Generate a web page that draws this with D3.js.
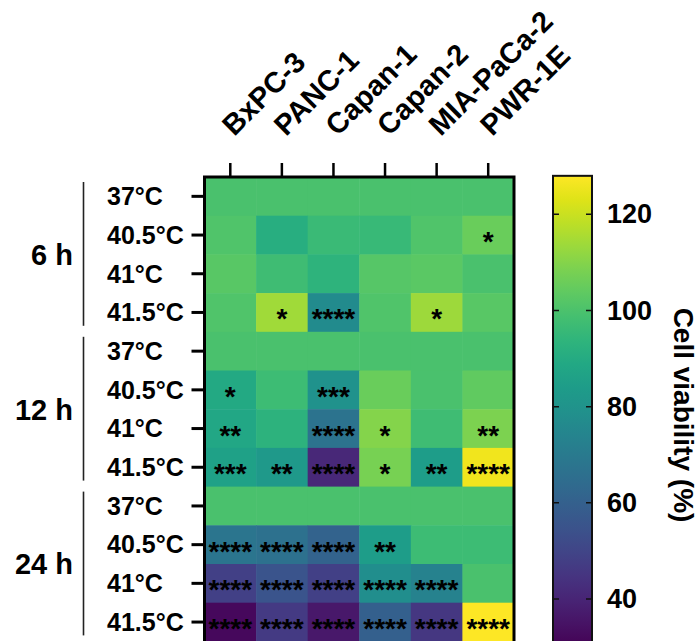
<!DOCTYPE html>
<html>
<head>
<meta charset="utf-8">
<script src="https://cdn.jsdelivr.net/npm/d3@7"></script>
<style>
  html, body { margin: 0; padding: 0; background: #fff; }
  svg { display: block; font-family: "Liberation Sans", Arial, sans-serif; font-weight: bold; }
</style>
</head>
<body>
<svg id="chart" width="700" height="641"></svg>
<script>
// ---------- data ----------
const cellLines = ["BxPC-3", "PANC-1", "Capan-1", "Capan-2", "MIA-PaCa-2", "PWR-1E"];
const temps = ["37°C", "40.5°C", "41°C", "41.5°C"];
const times = ["6 h", "12 h", "24 h"];

const viability6h = [
  [100, 100, 100, 100, 100, 100],
  [101, 91.5, 96.5, 96, 101, 105.5],
  [102.5, 97.5, 93.5, 102, 103, 100],
  [101, 114, 77, 101, 113.5, 102.5]
];
const viability12h = [
  [100, 100, 100, 100, 100, 100],
  [89, 97, 80, 105.5, 100, 104],
  [88.5, 93, 67.5, 110, 97.5, 108.5],
  [86, 82.5, 41, 108, 84, 126]
];
const viability24h = [
  [100, 100, 100, 100, 100, 100],
  [68, 66, 61, 84, 97, 97],
  [48.5, 55.5, 48.5, 78, 73.5, 100],
  [32, 46.5, 36.5, 59.5, 45.5, 128]
];
const stars6h = [
  ["", "", "", "", "", ""],
  ["", "", "", "", "", "*"],
  ["", "", "", "", "", ""],
  ["", "*", "****", "", "*", ""]
];
const stars12h = [
  ["", "", "", "", "", ""],
  ["*", "", "***", "", "", ""],
  ["**", "", "****", "*", "", "**"],
  ["***", "**", "****", "*", "**", "****"]
];
const stars24h = [
  ["", "", "", "", "", ""],
  ["****", "****", "****", "**", "", ""],
  ["****", "****", "****", "****", "****", ""],
  ["****", "****", "****", "****", "****", "****"]
];
const colorTicks = [40, 60, 80, 100, 120];
const colorMin = 30, colorMax = 128;

// ---------- build table ----------
const valueBlocks = [viability6h, viability12h, viability24h];
const starBlocks = [stars6h, stars12h, stars24h];
const rows = [];
times.forEach((t, ti) => temps.forEach((tp, pi) => rows.push({ key: t + "|" + tp, time: t, temp: tp, ti, pi })));
const cells = [];
rows.forEach(r => cellLines.forEach((c, ci) => cells.push({
  row: r.key, col: c,
  value: valueBlocks[r.ti][r.pi][ci],
  stars: starBlocks[r.ti][r.pi][ci]
})));

// ---------- layout ----------
const svg = d3.select("#chart");
const hm = { left: 204.5, top: 177, right: 514, bottom: 641.4 };
const FONT = "Liberation Sans, Arial, sans-serif";

const x = d3.scaleBand().domain(cellLines).range([hm.left, hm.right]);
const y = d3.scaleBand().domain(rows.map(r => r.key)).range([hm.top, hm.bottom]);
const color = d3.scaleSequential(d3.interpolateViridis).domain([colorMin, colorMax]);

// cells
svg.append("g").selectAll("rect").data(cells).join("rect")
  .attr("x", d => x(d.col))
  .attr("y", d => y(d.row))
  .attr("width", x.bandwidth() + 0.5)
  .attr("height", y.bandwidth() + 0.5)
  .attr("fill", d => color(d.value));

// significance stars
svg.append("g").selectAll("text").data(cells.filter(d => d.stars)).join("text")
  .attr("x", d => x(d.col) + x.bandwidth() / 2)
  .attr("y", d => y(d.row) + y.bandwidth() / 2 + 16)
  .attr("text-anchor", "middle")
  .attr("font-size", 28)
  .attr("fill", "#000")
  .text(d => d.stars);

// heatmap frame (left, top, right)
svg.append("path")
  .attr("d", `M${hm.left},${hm.bottom + 10}V${hm.top}H${hm.right}V${hm.bottom + 10}`)
  .attr("fill", "none").attr("stroke", "#000").attr("stroke-width", 3);

// top axis (cell lines)
const xAxis = svg.append("g").attr("transform", `translate(0,${hm.top})`)
  .call(d3.axisTop(x).tickSize(14).tickSizeOuter(0));
xAxis.select(".domain").remove();
xAxis.selectAll(".tick line").attr("stroke", "#000").attr("stroke-width", 2.5);
xAxis.selectAll(".tick text")
  .attr("font-size", 29).attr("font-family", FONT).attr("font-weight", "bold")
  .attr("fill", "#000")
  .attr("text-anchor", "start")
  .attr("y", 0).attr("dy", 0)
  .attr("transform", "translate(4,-40) rotate(-45)");

// left axis (temperatures)
const yAxis = svg.append("g").attr("transform", `translate(${hm.left},0)`)
  .call(d3.axisLeft(y).tickSize(13).tickSizeOuter(0).tickFormat(k => k.split("|")[1]));
yAxis.select(".domain").remove();
yAxis.selectAll(".tick line").attr("stroke", "#000").attr("stroke-width", 3);
yAxis.selectAll(".tick text")
  .attr("font-size", 25).attr("font-family", FONT).attr("font-weight", "bold")
  .attr("fill", "#000")
  .attr("text-anchor", "start")
  .attr("x", 107 - hm.left)
  .attr("dy", "0.35em");

// time groups: brackets + labels
const groups = svg.append("g");
times.forEach(t => {
  const keys = rows.filter(r => r.time === t).map(r => r.key);
  const y0 = y(keys[0]), y1 = y(keys[keys.length - 1]) + y.bandwidth();
  groups.append("line")
    .attr("x1", 83.5).attr("x2", 83.5)
    .attr("y1", y0 + 5).attr("y2", y1 - 6)
    .attr("stroke", "#222").attr("stroke-width", 1.6);
  groups.append("text")
    .attr("x", 73).attr("y", (y0 + y1) / 2)
    .attr("dy", "0.36em")
    .attr("text-anchor", "end")
    .attr("font-size", 29)
    .attr("fill", "#000")
    .text(t);
});

// ---------- colour bar ----------
const cb = { x0: 553, x1: 592 };
const cScale = d3.scaleLinear().domain([40, 120]).range([599, 214.3]);
const defs = svg.append("defs");
const grad = defs.append("linearGradient").attr("id", "cbgrad")
  .attr("x1", 0).attr("y1", 1).attr("x2", 0).attr("y2", 0);
d3.range(0, 1.0001, 0.05).forEach(s => {
  grad.append("stop").attr("offset", s).attr("stop-color", d3.interpolateViridis(s));
});
svg.append("rect")
  .attr("x", cb.x0).attr("y", cScale(colorMax))
  .attr("width", cb.x1 - cb.x0)
  .attr("height", cScale(colorMin) - cScale(colorMax))
  .attr("fill", "url(#cbgrad)")
  .attr("stroke", "#111").attr("stroke-width", 2);

const cAxis = svg.append("g").attr("transform", `translate(${cb.x1},0)`)
  .call(d3.axisRight(cScale).tickValues(colorTicks).tickSize(0).tickPadding(15));
cAxis.select(".domain").remove();
cAxis.selectAll(".tick text")
  .attr("font-size", 27).attr("font-family", FONT).attr("font-weight", "bold")
  .attr("fill", "#000");
// inner tick marks on both edges
svg.append("g").selectAll("path").data(colorTicks).join("path")
  .attr("d", v => `M${cb.x0},${cScale(v)}h6M${cb.x1},${cScale(v)}h-6`)
  .attr("stroke", "#111").attr("stroke-width", 1.5);

svg.append("text")
  .attr("transform", `translate(674,${415}) rotate(90)`)
  .attr("text-anchor", "middle")
  .attr("font-size", 28)
  .attr("fill", "#000")
  .text("Cell viability (%)");
</script>
</body>
</html>
